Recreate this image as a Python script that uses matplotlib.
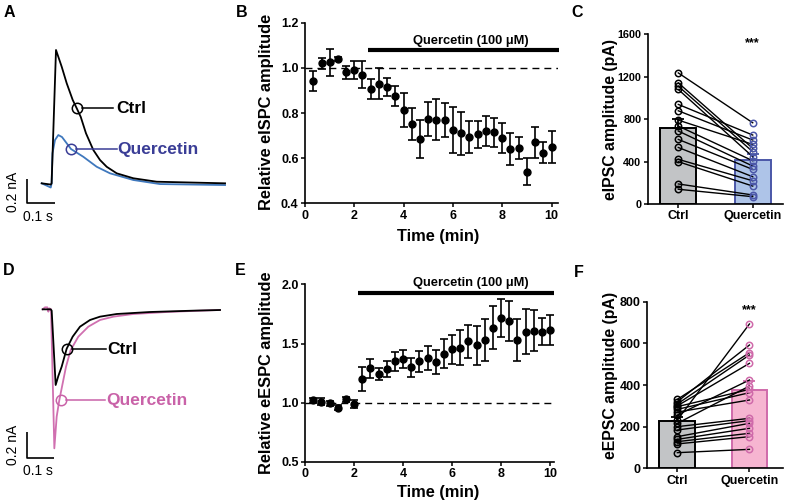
import matplotlib
matplotlib.use('Agg')
import matplotlib.pyplot as plt

plt.rcParams['font.family'] = ['Liberation Sans', 'DejaVu Sans']
plt.rcParams['font.weight'] = 'bold'

# ---------------- data ----------------
# Panel A traces (time s, current nA)
a_ctrl_t = [0, 0.032, 0.035, 0.0505, 0.0707, 0.0884, 0.1096, 0.1237, 0.1378, 0.1565,
            0.1824, 0.2060, 0.2297, 0.2651, 0.3237, 0.4064, 0.648]
a_ctrl_i = [0, -0.01, 0, 1.08, 0.944, 0.810, 0.675, 0.608, 0.539, 0.405,
            0.270, 0.189, 0.134, 0.081, 0.041, 0.013, 0]
a_querc_t = [0, 0.032, 0.035, 0.038, 0.047, 0.0587, 0.0717, 0.1035, 0.147, 0.1944,
             0.2414, 0.3237, 0.418, 0.648]
a_querc_i = [0, -0.034, 0, 0.243, 0.351, 0.391, 0.375, 0.278, 0.215, 0.134,
             0.081, 0.027, -0.006, -0.014]

# Panel D traces
d_ctrl_t = [0, 0.029, 0.0326, 0.047, 0.0567, 0.0688, 0.0869, 0.1086, 0.1352, 0.1713,
            0.2075, 0.2679, 0.3885, 0.5454, 0.642]
d_ctrl_i = [0, 0, -0.01, -0.5675, -0.50, -0.43, -0.295, -0.205, -0.13, -0.08,
            -0.055, -0.035, -0.02, -0.01, -0.005]
d_querc_t = [0, 0.0084, 0.0169, 0.0205, 0.0241, 0.0302, 0.0422, 0.0507, 0.0603, 0.0724,
             0.0845, 0.1014, 0.1291, 0.1653, 0.2075, 0.2558, 0.3282, 0.4489, 0.5696, 0.642]
d_querc_i = [0, 0.015, 0.015, -0.0175, 0.0075, 0, -1.0425, -0.805, -0.68, -0.555,
             -0.43, -0.305, -0.205, -0.13, -0.08, -0.055, -0.035, -0.02, -0.01, -0.005]

scale_t = 0.1   # s
scale_i = 0.2   # nA

# Panel B (eIPSC time course)
time_min = [0.33, 0.67, 1.0, 1.33, 1.67, 2.0, 2.33, 2.67, 3.0, 3.33, 3.67, 4.0, 4.33, 4.67, 5.0,
            5.33, 5.67, 6.0, 6.33, 6.67, 7.0, 7.33, 7.67, 8.0, 8.33, 8.67, 9.0, 9.33, 9.67, 10.0]
b_mean = [0.943, 1.02, 1.025, 1.04, 0.98, 0.99, 0.97, 0.905, 0.93, 0.915, 0.875, 0.815, 0.75, 0.685, 0.775,
          0.77, 0.77, 0.725, 0.71, 0.695, 0.705, 0.72, 0.715, 0.69, 0.64, 0.645, 0.54, 0.67, 0.625, 0.65]
b_sem = [0.045, 0.025, 0.06, 0.01, 0.03, 0.04, 0.06, 0.045, 0.07, 0.04, 0.045, 0.075, 0.07, 0.085, 0.075,
         0.09, 0.075, 0.1, 0.095, 0.07, 0.06, 0.065, 0.065, 0.065, 0.07, 0.05, 0.06, 0.07, 0.045, 0.07]
b_drug_start, b_drug_end, b_drug_level = 2.55, 10.3, 1.08

# Panel E (eEPSC time course)
e_mean = [1.02, 1.01, 0.995, 0.96, 1.03, 0.99, 1.2, 1.29, 1.245, 1.285, 1.35, 1.37, 1.30, 1.35, 1.375,
          1.345, 1.415, 1.45, 1.465, 1.52, 1.485, 1.53, 1.635, 1.715, 1.69, 1.53, 1.60, 1.61, 1.60, 1.615]
e_sem = [0.02, 0.03, 0.02, 0.02, 0.02, 0.03, 0.1, 0.08, 0.05, 0.065, 0.08, 0.075, 0.08, 0.09, 0.1,
         0.1, 0.12, 0.125, 0.15, 0.14, 0.165, 0.18, 0.185, 0.16, 0.17, 0.18, 0.19, 0.17, 0.115, 0.125]
e_drug_start, e_drug_end, e_drug_level = 2.16, 10.16, 1.926

# Panel C (eIPSC amplitude, paired)
groups = ['Ctrl', 'Quercetin']
c_ctrl = [1236, 1142, 1111, 1080, 939, 879, 791, 735, 688, 609, 533, 421, 399, 189, 139]
c_querc = [766, 525, 493, 446, 650, 603, 562, 408, 358, 326, 257, 219, 169, 85, 69]
c_bar = [720, 412]
c_err = [78, 55]

# Panel F (eEPSC amplitude, paired)
f_ctrl = [331, 320, 309, 300, 296, 283, 270, 256, 232, 216, 200, 184, 152, 139, 128, 117, 75]
f_querc = [555, 592, 544, 504, 379, 363, 328, 424, 693, 395, 240, 229, 216, 192, 168, 152, 91]
f_bar = [225, 376]
f_err = [20, 45]

# ---------------- figure ----------------
W, H = 791, 504
fig = plt.figure(figsize=(W / 100, H / 100), dpi=100)


def rect(l, t, r, b):
    return [l / W, 1 - b / H, (r - l) / W, (b - t) / H]


BLACK = 'black'
BLUE_TR = '#3f78bd'
BLUE_TX = '#3a3d96'
BLUE_BAR = '#aec4e8'
BLUE_EDGE = '#4b57a8'
PINK_TR = '#d070b0'
PINK_TX = '#c962a8'
PINK_BAR = '#f6b5d1'
PINK_EDGE = '#cf6aaa'
GRAY = '#c2c4c6'


def trace_panel(ax, ctrl_t, ctrl_i, q_t, q_i, qcol, qtxt, ann, sb, sbtxt):
    ax.plot(q_t, q_i, color=qcol, lw=1.3, zorder=2)
    ax.plot(ctrl_t, ctrl_i, color=BLACK, lw=1.3, zorder=3)
    for ct, ci, lt0, lt1, tt, ti, lab, col in ann:
        ax.plot([ct], [ci], 'o', ms=7.5, mfc='none', mec=col, mew=1.1, zorder=4)
        ax.plot([lt0, lt1], [ci, ci], color=col, lw=1.1, zorder=4)
        ax.text(tt, ti, lab, color=col, fontsize=12.5, fontweight='bold', va='center', ha='left')
    x0, y0 = sb
    ax.plot([x0, x0, x0 + scale_t], [y0 + scale_i, y0, y0], color=BLACK, lw=1.2, solid_capstyle='butt')
    (vx, vy), (hx, hy) = sbtxt
    ax.text(vx, vy, f'{scale_i} nA', rotation=90, fontsize=10, fontweight='normal', ha='center', va='center')
    ax.text(hx, hy, f'{scale_t} s', fontsize=10, fontweight='normal', ha='center', va='center')
    ax.axis('off')


# Panel A
axA = fig.add_axes(rect(0, 30, 245, 230))
axA.set_xlim(-0.1474, 0.7185)
axA.set_ylim(-0.378, 1.2417)
trace_panel(axA, a_ctrl_t, a_ctrl_i, a_querc_t, a_querc_i, BLUE_TR, BLUE_TX,
            [(0.1237, 0.608, 0.141, 0.252, 0.262, 0.602, 'Ctrl', BLACK),
             (0.1035, 0.278, 0.121, 0.266, 0.268, 0.275, 'Quercetin', BLUE_TX)],
            (-0.053, -0.162), ((-0.103, -0.068), (-0.013, -0.27)))

# Panel D
axD = fig.add_axes(rect(0, 280, 245, 480))
axD.set_xlim(-0.1545, 0.7325)
axD.set_ylim(-1.28, 0.22)
trace_panel(axD, d_ctrl_t, d_ctrl_i, d_querc_t, d_querc_i, PINK_TR, PINK_TX,
            [(0.087, -0.295, 0.105, 0.229, 0.232, -0.298, 'Ctrl', BLACK),
             (0.0664, -0.68, 0.084, 0.227, 0.229, -0.685, 'Quercetin', PINK_TX)],
            (-0.0578, -1.117), ((-0.109, -1.0175), (-0.0169, -1.21)))


def style_axes(ax, fs=9):
    for s in ['top', 'right']:
        ax.spines[s].set_visible(False)
    for s in ['left', 'bottom']:
        ax.spines[s].set_linewidth(1.2)
    ax.tick_params(direction='out', length=2.6, width=1.1, labelsize=fs, pad=2)
    for lab in ax.get_xticklabels() + ax.get_yticklabels():
        lab.set_fontweight('bold')


def time_panel(ax, mean, sem, ylim, yticks, ylabels, xmax, drug, ylab, ylab_xy, xlab_xy, drug_txt_xy):
    ax.errorbar(time_min, mean, yerr=sem, fmt='o', color=BLACK, ms=5, capsize=2.6,
                elinewidth=1.2, capthick=1.2, zorder=3, clip_on=False)
    ax.plot([0, xmax], [1.0, 1.0], color=BLACK, lw=1.0, ls=(0, (5, 3.6)), zorder=1)
    s, e, lvl = drug
    ax.plot([s, e], [lvl, lvl], color=BLACK, lw=3.0, solid_capstyle='butt', clip_on=False)
    ax.text(drug_txt_xy[0], drug_txt_xy[1], 'Quercetin (100 μM)', fontsize=9.3,
            fontweight='bold', ha='center', va='center')
    ax.set_xlim(0, xmax)
    ax.set_ylim(*ylim)
    ax.set_xticks([0, 2, 4, 6, 8, 10])
    ax.set_yticks(yticks)
    ax.set_yticklabels(ylabels)
    style_axes(ax)
    ax.set_ylabel(ylab, fontsize=11.8, fontweight='bold')
    ax.yaxis.set_label_coords(ylab_xy[0] / W, 1 - ylab_xy[1] / H, transform=fig.transFigure)
    ax.yaxis.label.set_verticalalignment('center')
    ax.set_xlabel('Time (min)', fontsize=11.8, fontweight='bold')
    ax.xaxis.set_label_coords(xlab_xy[0] / W, 1 - xlab_xy[1] / H, transform=fig.transFigure)
    ax.xaxis.label.set_verticalalignment('center')


axB = fig.add_axes(rect(305, 22.7, 558, 203.3))
time_panel(axB, b_mean, b_sem, (0.4, 1.2), [0.4, 0.6, 0.8, 1.0, 1.2],
           ['0.4', '0.6', '0.8', '1.0', '1.2'], 10.26, (b_drug_start, b_drug_end, b_drug_level),
           'Relative eISPC amplitude', (267, 111.7), (438.3, 236), (6.72, 1.119))

axE = fig.add_axes(rect(305, 284.3, 554, 462))
time_panel(axE, e_mean, e_sem, (0.5, 2.0), [0.5, 1.0, 1.5, 2.0],
           ['0.5', '1.0', '1.5', '2.0'], 10.16, (e_drug_start, e_drug_end, e_drug_level),
           'Relative eESPC amplitude', (267, 372.5), (438.3, 492.3), (6.75, 2.01))


def bar_panel(ax, ctrl, querc, bars, errs, qface, qedge, ylim, yticks, ylab, ylab_xy, star_y,
              xlim, width, tick_fs):
    ax.bar([0, 1], bars, width=width, color=[GRAY, qface], edgecolor=[BLACK, qedge],
           linewidth=1.4, zorder=1)
    for i, (b, e, col) in enumerate(zip(bars, errs, [BLACK, qedge])):
        ax.errorbar([i], [b], yerr=[[0], [e]], color=col, capsize=4, elinewidth=1.3,
                    capthick=1.3, zorder=2)
    for c, q in zip(ctrl, querc):
        ax.plot([0, 1], [c, q], color=BLACK, lw=1.0, zorder=3)
    ax.plot([0] * len(ctrl), ctrl, 'o', ms=4.6, mfc='none', mec=BLACK, mew=1.1, zorder=4)
    ax.plot([1] * len(querc), querc, 'o', ms=4.6, mfc='none', mec=qedge, mew=1.1, zorder=4)
    ax.text(1, star_y, '***', fontsize=9, fontweight='bold', ha='center', va='center')
    ax.set_xlim(*xlim)
    ax.set_ylim(*ylim)
    ax.set_yticks(yticks)
    ax.set_xticks([0, 1])
    ax.set_xticklabels(groups)
    style_axes(ax, tick_fs)
    ax.tick_params(axis='x', labelsize=9)
    ax.set_ylabel(ylab, fontsize=11.4, fontweight='bold')
    ax.yaxis.set_label_coords(ylab_xy[0] / W, 1 - ylab_xy[1] / H, transform=fig.transFigure)
    ax.yaxis.label.set_verticalalignment('center')


axC = fig.add_axes(rect(647.7, 34.3, 783, 204))
bar_panel(axC, c_ctrl, c_querc, c_bar, c_err, BLUE_BAR, BLUE_EDGE, (0, 1600),
          [0, 400, 800, 1200, 1600], 'eIPSC amplitude (pA)', (610, 119), 1515,
          (-0.411, 1.407), 0.48, 7.8)

axF = fig.add_axes(rect(647.3, 301.7, 783.3, 468.3))
bar_panel(axF, f_ctrl, f_querc, f_bar, f_err, PINK_BAR, PINK_EDGE, (0, 800),
          [0, 200, 400, 600, 800], 'eEPSC amplitude (pA)', (610, 375), 760,
          (-0.417, 1.47), 0.496, 9)

# panel letters
for lab, x, y in [('A', 3.3, 17.3), ('B', 236, 17.3), ('C', 571.7, 16.7),
                  ('D', 3.3, 275), ('E', 235, 275), ('F', 574, 276.7)]:
    fig.text(x / W, 1 - y / H, lab, fontsize=11.5, fontweight='bold', ha='left', va='baseline')

fig.savefig('out.png', dpi=100)
